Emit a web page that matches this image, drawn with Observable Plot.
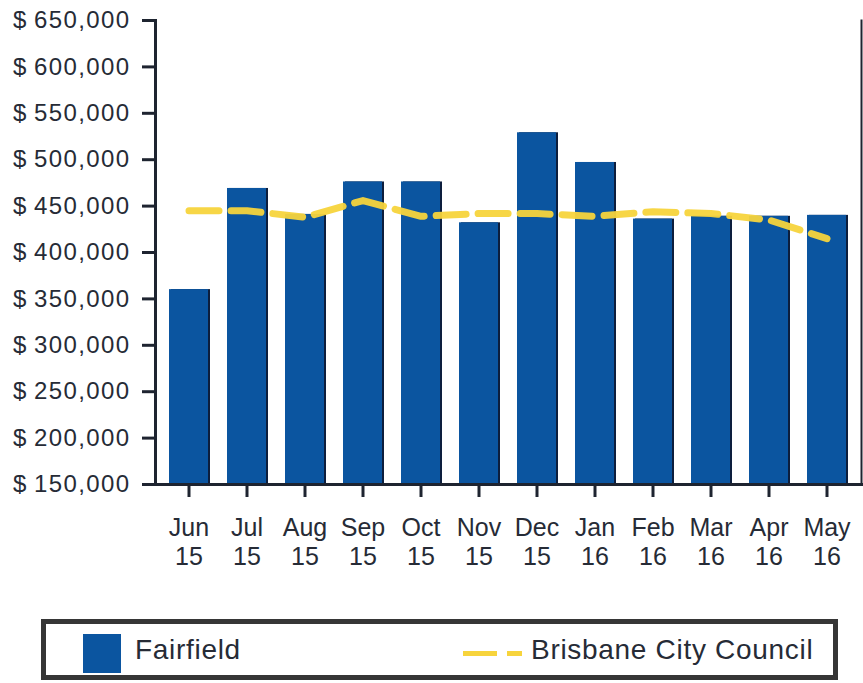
<!DOCTYPE html>
<html>
<head>
<meta charset="utf-8">
<script src="https://cdn.jsdelivr.net/npm/d3@7"></script>
<script src="https://cdn.jsdelivr.net/npm/@observablehq/plot@0.6"></script>
<style>
  body { margin: 0; background: #fff; font-family: "Liberation Sans", Arial, sans-serif; }
  #wrap { position: relative; width: 863px; height: 683px; overflow: hidden; }
  #legend { position: absolute; left: 41px; top: 619px; width: 787px; height: 51px;
            border: 5px solid #363636; color: #262b36; font-size: 28px; letter-spacing: 0.7px; }
  #legend .sw { position: absolute; left: 37px; top: 10px; width: 38px; height: 39px; background: #0b55a0; }
  #legend .t1 { position: absolute; left: 89px; top: 10px; line-height: 32px; }
  #legend .dash { position: absolute; left: 417px; top: 27px; width: 59px; height: 5px;
                  background: linear-gradient(to right, #f7d43c 0 34px, transparent 34px 44px, #f7d43c 44px 59px); }
  #legend .t2 { position: absolute; left: 485px; top: 10px; line-height: 32px; }
</style>
</head>
<body>
<div id="wrap">
  <div id="chart"></div>
  <div id="legend">
    <div class="sw"></div><div class="t1">Fairfield</div>
    <div class="dash"></div><div class="t2">Brisbane City Council</div>
  </div>
</div>
<script>
const months = ["Jun","Jul","Aug","Sep","Oct","Nov","Dec","Jan","Feb","Mar","Apr","May"];
const years = ["15","15","15","15","15","15","15","16","16","16","16","16"];
const fairfield = [360000, 469000, 441000, 476000, 476000, 432000, 529000, 497000, 436000, 439000, 439000, 440000];
const brisbane = [445000, 445000, 438000, 456000, 439000, 442000, 442000, 439000, 444000, 442000, 435000, 415000];
const yTicks = [150000, 200000, 250000, 300000, 350000, 400000, 450000, 500000, 550000, 600000, 650000];

const labels = months.map((m, i) => m + " " + years[i]);
const data = labels.map((l, i) => ({label: l, fairfield: fairfield[i], brisbane: brisbane[i]}));

const axisColor = "#1e2430";
const textColor = "#262b36";
const font = "Liberation Sans, Arial, sans-serif";

const chart = Plot.plot({
  width: 863,
  height: 600,
  marginLeft: 155,
  marginRight: 2,
  marginTop: 20,
  marginBottom: 116,
  style: {fontFamily: font, color: textColor, background: "#fff"},
  x: {type: "band", domain: labels, paddingInner: 0.32, paddingOuter: 0.16},
  y: {domain: [150000, 650000]},
  marks: [
    Plot.barY(data, {x: "label", y1: 150000, y2: "fairfield", fill: "#0d1e3d", dx: 2}),
    Plot.barY(data, {x: "label", y1: 150000, y2: "fairfield", fill: "#0b55a0"}),
    Plot.line(data, {x: "label", y: "brisbane", stroke: "#f7d43c", strokeWidth: 7, strokeDasharray: "30,12", strokeOpacity: 0.95}),
    Plot.axisY({ticks: yTicks, tickFormat: d => "$\u2009" + d3.format(",")(d), tickSize: 13, tickPadding: 12,
                fontSize: 24, label: null, stroke: axisColor, strokeWidth: 3}),
    Plot.axisX({tickSize: 13, tickPadding: 21, fontSize: 25, label: null, stroke: axisColor, strokeWidth: 3,
                tickFormat: d => d.split(" ")[0]}),
    Plot.axisX({tickSize: 0, tickPadding: 63, fontSize: 25, label: null,
                tickFormat: d => d.split(" ")[1]}),
    Plot.frame({anchor: "left", stroke: axisColor, strokeWidth: 3}),
    Plot.frame({anchor: "bottom", stroke: axisColor, strokeWidth: 3}),
    Plot.frame({anchor: "right", stroke: axisColor, strokeWidth: 2})
  ]
});
d3.select(chart).selectAll('g[aria-label="y-axis tick label"]').attr("letter-spacing", 1.4);
document.getElementById("chart").appendChild(chart);
</script>
</body>
</html>
